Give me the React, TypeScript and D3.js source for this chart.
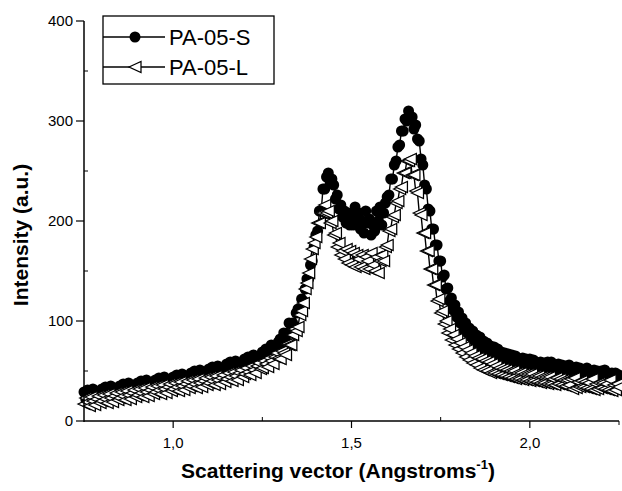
import React from "react";
import * as d3 from "d3";

const xStart = 0.75;
const xStep = 0.005;

const seriesNames = ["PA-05-S", "PA-05-L"];

const valuesS = [
  29, 22, 31, 20, 25, 32, 21, 27, 19, 30,
  32, 25, 34, 23, 28, 35, 24, 30, 22, 33,
  35, 28, 37, 26, 31, 38, 27, 33, 25, 36,
  38, 31, 40, 29, 34, 41, 30, 36, 28, 39,
  41, 34, 43, 32, 37, 44, 33, 39, 31, 42,
  44, 37, 46, 35, 40, 47, 36, 42, 34, 45,
  48, 41, 50, 39, 44, 51, 40, 46, 38, 49,
  52, 45, 54, 43, 48, 55, 44, 50, 42, 53,
  57, 50, 59, 48, 53, 60, 49, 55, 47, 58,
  62, 55, 64, 53, 58, 66, 55, 61, 53, 65,
  69, 62, 72, 62, 68, 76, 66, 73, 66, 79,
  82, 78, 88, 82, 88, 98, 90, 98, 94, 108,
  112, 110, 122, 120, 132, 142, 142, 156, 160, 174,
  186, 190, 210, 210, 232, 232, 244, 248, 240, 242,
  236, 222, 226, 212, 216, 204, 210, 198, 208, 196,
  204, 196, 214, 202, 208, 192, 200, 188, 210, 198,
  202, 186, 196, 190, 210, 200, 214, 196, 208, 218,
  224, 226, 242, 242, 256, 260, 274, 276, 290, 290,
  302, 300, 310, 302, 304, 292, 296, 282, 280, 262,
  256, 236, 232, 212, 210, 192, 192, 176, 176, 160,
  160, 144, 146, 132, 133, 120, 123, 111, 116, 104,
  109, 98, 103, 91, 98, 88, 93, 84, 90, 80,
  86, 77, 84, 73, 80, 72, 78, 68, 75, 68,
  74, 63, 72, 61, 69, 62, 68, 58, 67, 57,
  66, 56, 65, 54, 61, 56, 63, 54, 62, 52,
  62, 53, 61, 51, 58, 53, 59, 50, 58, 49,
  59, 50, 59, 48, 55, 51, 57, 48, 56, 47,
  55, 46, 56, 44, 51, 49, 54, 45, 53, 44,
  51, 43, 53, 41, 48, 47, 51, 42, 50, 41,
  50, 41, 51, 40, 46, 46, 48, 40, 48, 40,
  46,
];

const valuesL = [
  17, 23, 19, 15, 24, 20, 16, 22, 25, 18,
  20, 26, 22, 18, 27, 23, 19, 25, 28, 21,
  23, 29, 25, 21, 30, 26, 22, 28, 31, 24,
  26, 32, 28, 24, 33, 29, 25, 31, 34, 27,
  29, 35, 31, 27, 36, 32, 28, 34, 37, 30,
  32, 38, 34, 30, 39, 35, 31, 37, 40, 33,
  35, 41, 37, 33, 42, 38, 34, 40, 43, 36,
  38, 44, 40, 36, 45, 41, 37, 43, 46, 39,
  42, 48, 44, 40, 49, 45, 41, 48, 51, 44,
  47, 53, 49, 46, 55, 51, 48, 55, 58, 52,
  53, 60, 57, 54, 63, 60, 57, 64, 68, 63,
  62, 70, 68, 66, 77, 76, 76, 86, 92, 90,
  94, 106, 110, 118, 132, 138, 148, 162, 172, 178,
  184, 198, 198, 208, 208, 216, 208, 210, 198, 200,
  186, 188, 174, 178, 166, 170, 162, 172, 158, 170,
  156, 168, 154, 166, 162, 154, 166, 152, 164, 160,
  152, 168, 156, 150, 164, 148, 160, 166, 160, 174,
  176, 190, 192, 204, 206, 218, 220, 232, 234, 248,
  248, 260, 260, 262, 246, 246, 230, 228, 208, 206,
  188, 188, 170, 170, 152, 152, 136, 136, 120, 122,
  108, 110, 97, 100, 88, 92, 81, 86, 76, 82,
  72, 78, 68, 74, 64, 71, 61, 68, 58, 65,
  56, 63, 53, 62, 51, 60, 50, 59, 48, 57,
  48, 55, 47, 53, 46, 52, 45, 51, 44, 50,
  43, 50, 42, 48, 42, 48, 41, 47, 41, 47,
  40, 47, 40, 45, 39, 45, 38, 44, 38, 44,
  37, 44, 37, 42, 36, 43, 37, 42, 36, 41,
  35, 41, 36, 42, 32, 43, 33, 39, 34, 40,
  34, 39, 33, 38, 32, 42, 31, 37, 32, 38,
  33, 38, 32, 37, 31, 41, 30, 36, 31, 37,
  34,
];

const xMajorTicks = [1.0, 1.5, 2.0];
const xTickLabels = ["1,0", "1,5", "2,0"];
const xMinorTicks = [1.25, 1.75];
const yMajorTicks = [0, 100, 200, 300, 400];
const yMinorTicks = [50, 150, 250, 350];

const W = 622;
const H = 491;
const FONT = "'Liberation Sans', Arial, Helvetica, sans-serif";

export default function App() {
  const x = d3.scaleLinear().domain([0.75, 2.25]).range([84, 619]);
  const y = d3.scaleLinear().domain([0, 400]).range([421, 21]);

  const toPts = (vals: number[]) =>
    vals.map((v, i) => ({ x: xStart + i * xStep, v }));
  const ptsS = toPts(valuesS);
  const ptsL = toPts(valuesL);

  const line = d3
    .line<{ x: number; v: number }>()
    .x((d) => x(d.x))
    .y((d) => y(d.v));

  const triPath = "M -6 0 L 6 -5.5 L 6 5.5 Z";

  return (
    <div style={{ position: "absolute", left: 0, top: 0 }}>
      <svg width={W} height={H} style={{ display: "block", background: "#fff" }}>
        <rect x={0} y={0} width={W} height={H} fill="#fff" />
        {/* Series S */}
        <path d={line(ptsS) || ""} fill="none" stroke="#000" strokeWidth={1.4} />
        {ptsS.map((d, i) => (
          <circle key={"s" + i} cx={x(d.x)} cy={y(d.v)} r={5.5} fill="#000" />
        ))}
        {/* Series L */}
        <path d={line(ptsL) || ""} fill="none" stroke="#000" strokeWidth={1.4} />
        {ptsL.map((d, i) => (
          <path
            key={"l" + i}
            d={triPath}
            transform={`translate(${x(d.x)},${y(d.v)})`}
            fill="#fff"
            stroke="#000"
            strokeWidth={1.25}
          />
        ))}

        {/* Axes */}
        <line x1={84} x2={84} y1={y(400)} y2={y(0) + 1} stroke="#000" strokeWidth={1.5} />
        <line x1={84} x2={x(2.25)} y1={y(0)} y2={y(0)} stroke="#000" strokeWidth={1.5} />
        {yMajorTicks.map((t) => (
          <g key={"ym" + t}>
            <line x1={76} x2={84} y1={y(t)} y2={y(t)} stroke="#000" strokeWidth={1.2} />
            <text
              x={73}
              y={y(t)}
              dy="0.35em"
              textAnchor="end"
              fontFamily={FONT}
              fontSize={15}
            >
              {t}
            </text>
          </g>
        ))}
        {yMinorTicks.map((t) => (
          <line key={"yn" + t} x1={84} x2={88} y1={y(t)} y2={y(t)} stroke="#000" strokeWidth={1} />
        ))}
        {xMajorTicks.map((t, i) => (
          <g key={"xm" + t}>
            <line x1={x(t)} x2={x(t)} y1={y(0)} y2={y(0) + 7} stroke="#000" strokeWidth={1.2} />
            <text
              x={x(t)}
              y={y(0) + 27}
              textAnchor="middle"
              fontFamily={FONT}
              fontSize={15}
            >
              {xTickLabels[i]}
            </text>
          </g>
        ))}
        {xMinorTicks.map((t) => (
          <line key={"xn" + t} x1={x(t)} x2={x(t)} y1={y(0)} y2={y(0) - 4} stroke="#000" strokeWidth={1} />
        ))}
        <line x1={x(2.25)} x2={x(2.25)} y1={y(0)} y2={y(0) + 4} stroke="#000" strokeWidth={1} />

        {/* Axis titles */}
        <text
          x={338}
          y={478}
          textAnchor="middle"
          fontFamily={FONT}
          fontWeight="bold"
          fontSize={21}
        >
          Scattering vector (Angstroms
          <tspan fontSize={13} dy={-9}>-1</tspan>
          <tspan dy={9}>)</tspan>
        </text>
        <text
          transform="translate(28,235) rotate(-90)"
          textAnchor="middle"
          fontFamily={FONT}
          fontWeight="bold"
          fontSize={21}
        >
          Intensity (a.u.)
        </text>

        {/* Legend */}
        <rect x={103} y={16} width={171} height={68} fill="#fff" stroke="#000" strokeWidth={1.3} />
        <line x1={103} x2={165} y1={37} y2={37} stroke="#000" strokeWidth={1.4} />
        <circle cx={135} cy={37} r={5.5} fill="#000" />
        <text x={169} y={45} fontFamily={FONT} fontSize={22}>
          {seriesNames[0]}
        </text>
        <line x1={103} x2={165} y1={67} y2={67} stroke="#000" strokeWidth={1.4} />
        <path d={triPath} transform="translate(135,67)" fill="#fff" stroke="#000" strokeWidth={1.25} />
        <text x={169} y={75} fontFamily={FONT} fontSize={22}>
          {seriesNames[1]}
        </text>
      </svg>
    </div>
  );
}
